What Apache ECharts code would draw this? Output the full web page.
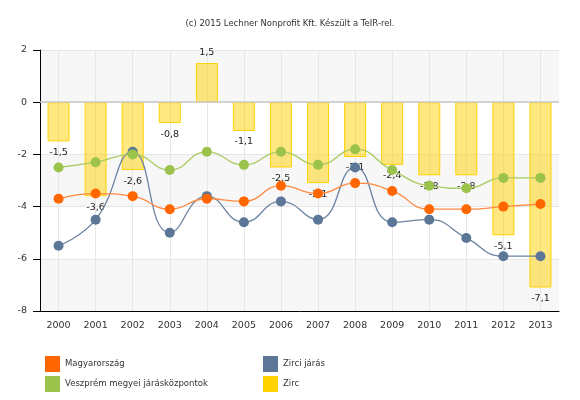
<!DOCTYPE html>
<html>
<head>
<meta charset="utf-8">
<script src="https://cdn.jsdelivr.net/npm/echarts@6/dist/echarts.min.js"></script>
<style>html,body{margin:0;padding:0;background:#fff}#c{width:580px;height:400px}</style>
</head>
<body>
<div id="c"></div>
<script>
var years = ['2000','2001','2002','2003','2004','2005','2006','2007','2008','2009','2010','2011','2012','2013'];
var magyarorszag = [-3.7,-3.5,-3.6,-4.1,-3.7,-3.8,-3.2,-3.5,-3.1,-3.4,-4.1,-4.1,-4.0,-3.9];
var veszprem = [-2.5,-2.3,-2.0,-2.6,-1.9,-2.4,-1.9,-2.4,-1.8,-2.6,-3.2,-3.3,-2.9,-2.9];
var zirciJaras = [-5.5,-4.5,-1.9,-5.0,-3.6,-4.6,-3.8,-4.5,-2.5,-4.6,-4.5,-5.2,-5.9,-5.9];
var zirc = [-1.5,-3.6,-2.6,-0.8,1.5,-1.1,-2.5,-3.1,-2.1,-2.4,-2.8,-2.8,-5.1,-7.1];
var yMin = -8, yMax = 2, yStep = 2;
var titleText = '(c) 2015 Lechner Nonprofit Kft. Készült a TeIR-rel.';
var names = ['Magyarország','Veszprém megyei járásközpontok','Zirci járás','Zirc'];

var FONT = '"DejaVu Sans", Verdana, sans-serif';
var chart = echarts.init(document.getElementById('c'), null, {renderer:'canvas'});
function lineSeries(name, data, color, lineColor) {
  return {
    name: name, type: 'line', data: data, smooth: 0.5,
    symbol: 'circle', symbolSize: 10, z: 5,
    itemStyle: {color: color},
    lineStyle: {color: lineColor, width: 1.3},
    emphasis: {disabled: true}
  };
}
var legendText = {fontFamily: FONT, fontSize: 8.5, color: '#333'};
chart.setOption({
  animation: false,
  title: {text: titleText, left: 'center', top: 14,
    textStyle: {fontFamily: FONT, fontSize: 8.5, fontWeight: 'normal', color: '#333'}},
  grid: {left: 40, right: 21, top: 50, bottom: 89, containLabel: false},
  legend: [
    {left: 40, top: 351, orient: 'vertical', icon: 'rect', itemWidth: 15, itemHeight: 16, itemGap: 4,
     data: [names[0], names[1]], textStyle: legendText, selectedMode: false},
    {left: 258, top: 351, orient: 'vertical', icon: 'rect', itemWidth: 15, itemHeight: 16, itemGap: 4,
     data: [names[2], {name: names[3], itemStyle: {color: '#ffd200', borderWidth: 0, opacity: 1}}],
     textStyle: legendText, selectedMode: false}
  ],
  xAxis: {
    type: 'category', data: years, boundaryGap: true,
    axisLine: {onZero: false, lineStyle: {color: '#000', width: 1}},
    axisTick: {alignWithLabel: true, length: 5, lineStyle: {color: '#000'}},
    axisLabel: {margin: 10, fontFamily: FONT, fontSize: 9.5, color: '#333'},
    splitLine: {show: true, alignWithLabel: true, lineStyle: {color: '#e6e6e6', width: 1}}
  },
  yAxis: {
    type: 'value', min: yMin, max: yMax, interval: yStep,
    axisLine: {show: true, lineStyle: {color: '#000', width: 1}},
    axisTick: {show: true, length: 7, lineStyle: {color: '#000'}},
    axisLabel: {margin: 13, fontFamily: FONT, fontSize: 9.5, color: '#333',
      formatter: function(v){ return String(v).replace('.', ','); }},
    splitLine: {show: true, lineStyle: {color: '#e6e6e6', width: 1}},
    splitArea: {show: true, areaStyle: {color: ['#f7f7f7', '#ffffff']}}
  },
  series: [
    {
      name: names[3], type: 'bar', data: zirc, barWidth: 22, z: 2,
      itemStyle: {color: 'rgba(255,210,0,0.5)', borderColor: '#ffd200', borderWidth: 1},
      label: {show: true, position: 'outside', distance: 6, fontFamily: FONT, fontSize: 9.5, color: '#222',
        formatter: function(p){ return String(p.value).replace('.', ','); }},
      markLine: {silent: true, symbol: 'none', label: {show: false},
        lineStyle: {color: '#c8c8c8', type: 'solid', width: 1.5}, data: [{yAxis: 0}]},
      emphasis: {disabled: true}
    },
    lineSeries(names[2], zirciJaras, '#5b7696', '#6a83a0'),
    lineSeries(names[1], veszprem, '#9bc24a', '#a9cb62'),
    lineSeries(names[0], magyarorszag, '#ff6600', '#ff8a40')
  ]
});
</script>
</body>
</html>
